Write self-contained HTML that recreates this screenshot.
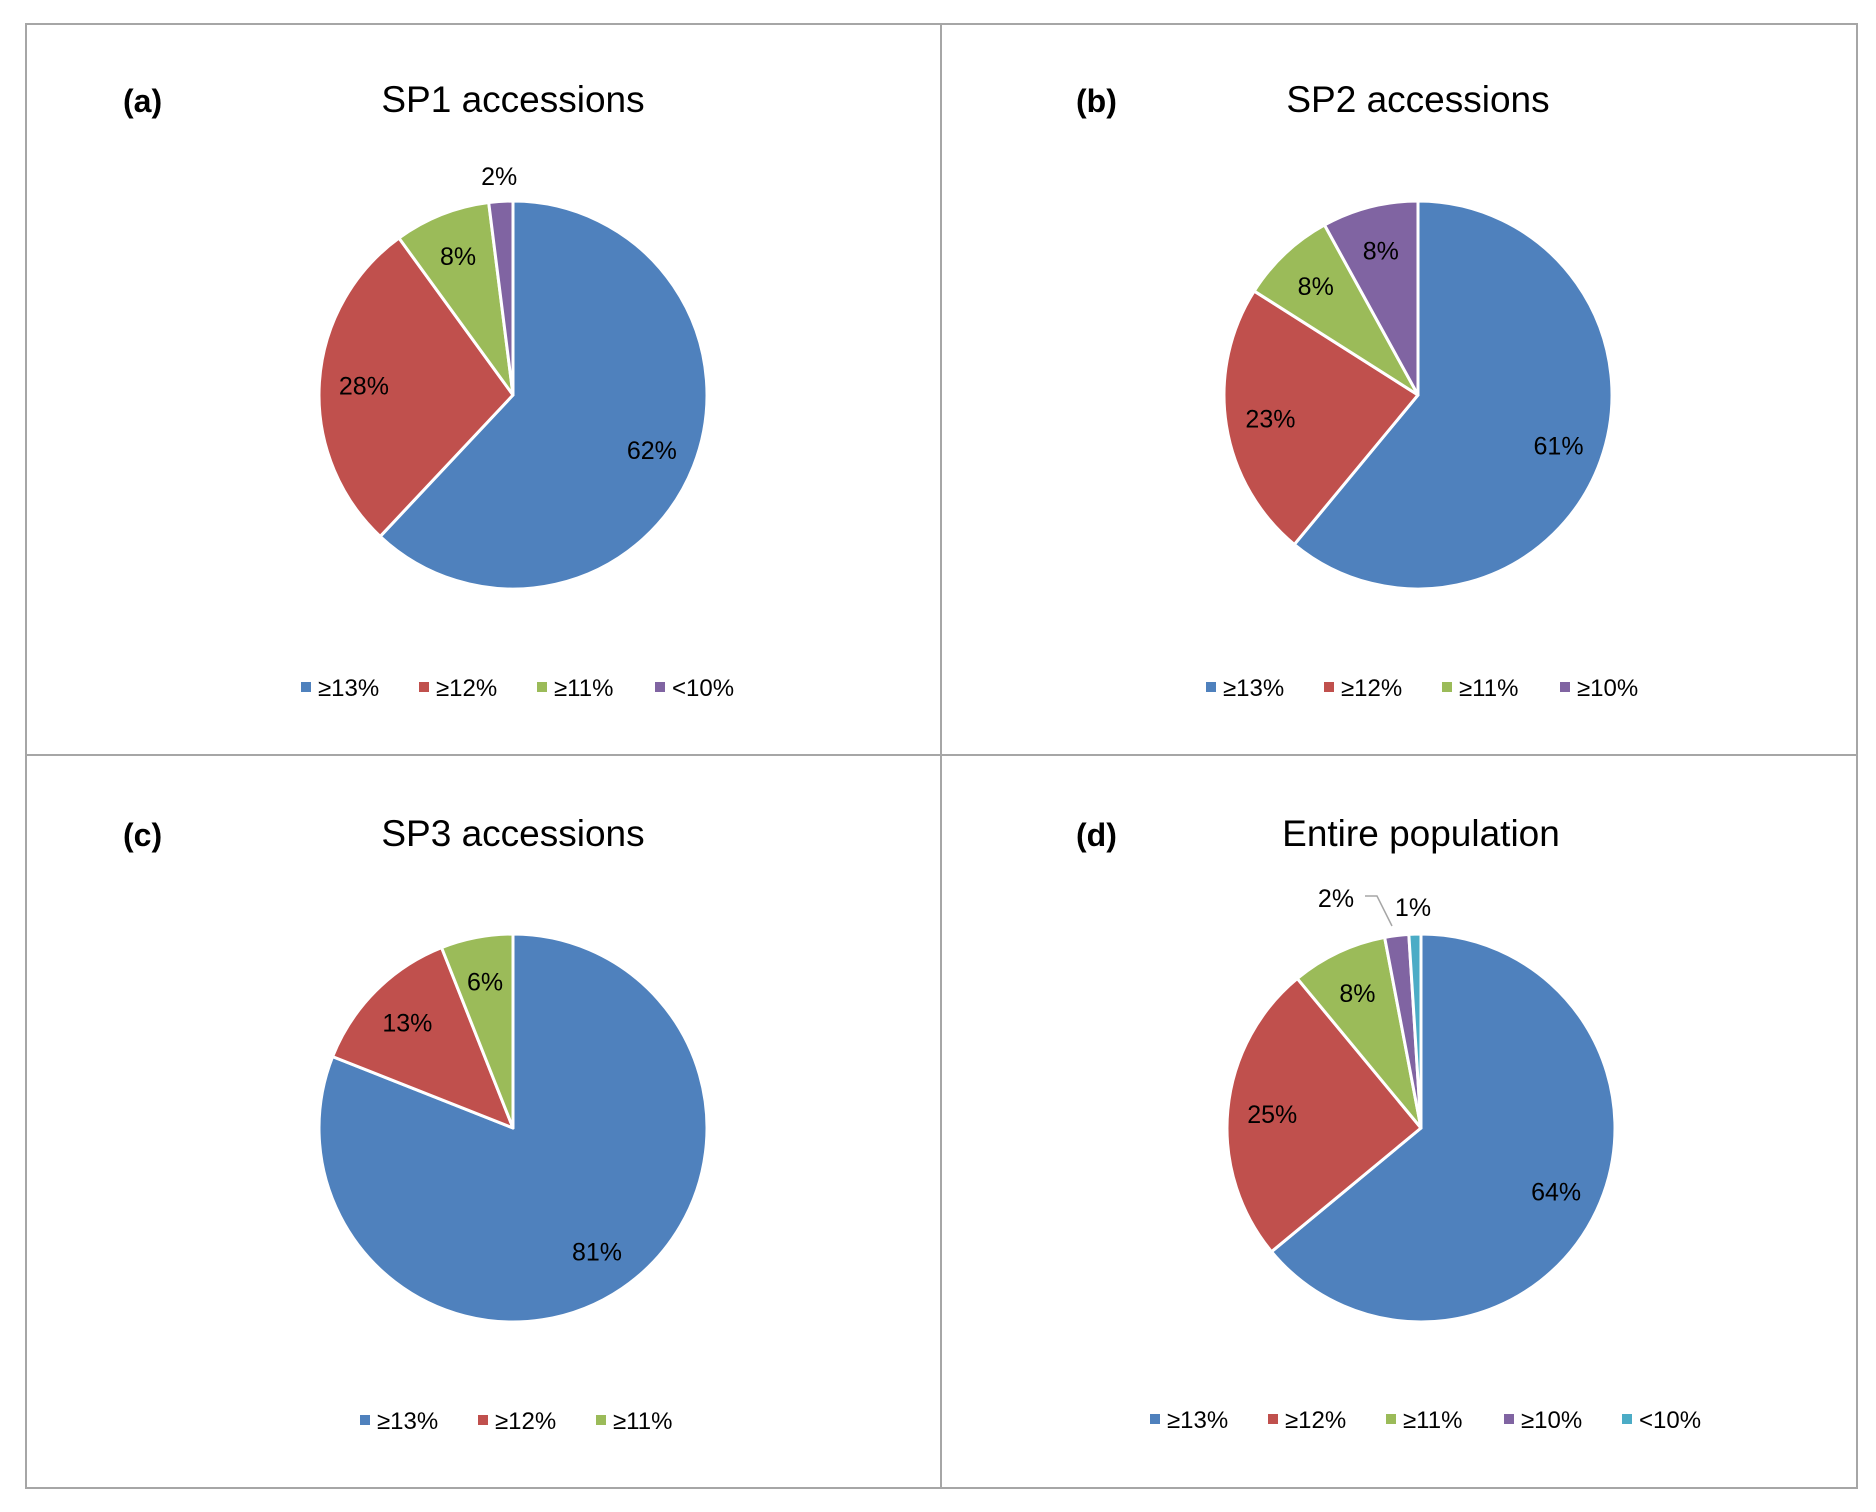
<!DOCTYPE html>
<html><head><meta charset="utf-8"><style>
html,body{margin:0;padding:0;background:#fff;}
svg{display:block;font-family:"Liberation Sans",sans-serif;}
</style></head><body>
<svg id="fig" width="1876" height="1512" viewBox="0 0 1876 1512">
<rect x="0" y="0" width="1876" height="1512" fill="#fff"/>
<rect x="26" y="24" width="1831" height="1464" fill="none" stroke="#a6a6a6" stroke-width="2"/>
<line x1="941" y1="24" x2="941" y2="1488" stroke="#a6a6a6" stroke-width="2"/>
<line x1="26" y1="755" x2="1857" y2="755" stroke="#a6a6a6" stroke-width="2"/>
</svg>
<script>
const colors = ["#4F81BD","#C0504D","#9BBB59","#8064A2","#4BACC6"];
const titles = ["SP1 accessions","SP2 accessions","SP3 accessions","Entire population"];
const panelLetters = ["(a)","(b)","(c)","(d)"];
const catsA = ["≥13%","≥12%","≥11%","<10%"];
const valsA = [62,28,8,2];
const catsB = ["≥13%","≥12%","≥11%","≥10%"];
const valsB = [61,23,8,8];
const catsC = ["≥13%","≥12%","≥11%"];
const valsC = [81,13,6];
const catsD = ["≥13%","≥12%","≥11%","≥10%","<10%"];
const valsD = [64,25,8,2,1];

const NS = "http://www.w3.org/2000/svg";
const svg = document.getElementById("fig");
function mk(tag, attrs, parent){
  const e = document.createElementNS(NS, tag);
  for (const k in attrs) e.setAttribute(k, attrs[k]);
  (parent||svg).appendChild(e);
  return e;
}
const R = 194;
function pt(cx, cy, r, frac){
  const a = frac * 2 * Math.PI;
  return [cx + r*Math.sin(a), cy - r*Math.cos(a)];
}
function drawPanel(idx, cx, cy, letterX, titleY, legendY, cats, vals){
  const g = mk("g", {});
  
  
  const lt = mk("text", {x: letterX, y: titleY, "font-size": 32, "font-weight": "bold", fill: "#000"}, g);
  lt.textContent = panelLetters[idx];
  
  
  const tt = mk("text", {x: cx, y: titleY, "font-size": 37, "text-anchor": "middle", fill: "#000"}, g);
  tt.textContent = titles[idx];
  
  
  const total = vals.reduce((a,b)=>a+b,0);
  let cum = 0;
  vals.forEach((v,i)=>{
    const f0 = cum/total, f1 = (cum+v)/total;
    const p0 = pt(cx,cy,R,f0), p1 = pt(cx,cy,R,f1);
    const large = (f1-f0) > 0.5 ? 1 : 0;
    const s = mk("path", {d:`M${cx},${cy} L${p0[0]},${p0[1]} A${R},${R} 0 ${large} 1 ${p1[0]},${p1[1]} Z`, fill: colors[i], stroke:"#fff", "stroke-width":3, "stroke-linejoin":"round"}, g);
    
    
    const mid = (f0+f1)/2;
    let lp;
    if (v/total < 0.03){
      lp = pt(cx,cy,R*1.13,mid);
      if (vals.length === 5){
        if (i === 3){ lp = [cx-85, cy-230];
          const ll = mk("polyline",{points:`${cx-56},${cy-232} ${cx-44},${cy-232} ${cx-29},${cy-202}`, fill:"none", stroke:"#a6a6a6","stroke-width":1.5}, g);
          
          
        }
        else lp = [cx-8, cy-221];
      }
    } else {
      lp = pt(cx,cy,R*0.77,mid);
    }
    const t = mk("text", {x: lp[0], y: lp[1]+9, "font-size": 25, "text-anchor": "middle", fill: "#000"}, g);
    t.textContent = Math.round(v/total*100) + "%";
    
    
    cum += v;
  });
  const step = 118;
  const startX = cx - (cats.length*step)/2 + 24;
  cats.forEach((c,i)=>{
    const x = startX + i*step;
    const m = mk("rect", {x: x, y: legendY-6, width: 10, height: 10, fill: colors[i]}, g);
    
    
    const t = mk("text", {x: x+17, y: legendY+8, "font-size": 24, fill: "#000"}, g);
    t.textContent = c;
    
    
  });
}
drawPanel(0, 513, 395, 123, 112, 688, catsA, valsA);
drawPanel(1, 1418, 395, 1076, 112, 688, catsB, valsB);
drawPanel(2, 513, 1128, 123, 846, 1421, catsC, valsC);
drawPanel(3, 1421, 1128, 1076, 846, 1420, catsD, valsD);
</script>
</body></html>
